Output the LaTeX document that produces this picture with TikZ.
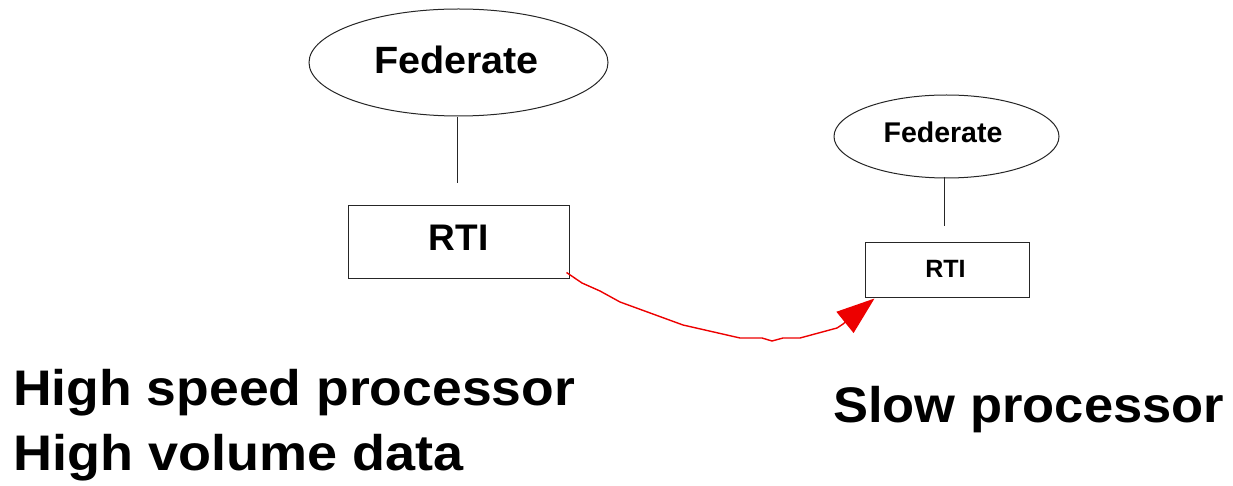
\documentclass[tikz,border=0pt]{standalone}
\usepackage{fontspec}
\setmainfont{Liberation Sans}
\usetikzlibrary{shapes.geometric,arrows.meta}
\begin{document}
\begin{tikzpicture}[x=1pt,y=-1pt,
  outline/.style={draw=black!85,line width=1pt},
  fedshape/.style={outline,ellipse,inner sep=0pt},
  rtibox/.style={outline,rectangle,inner sep=0pt},
  link/.style={draw=black!85,line width=1pt},
  txt/.style={font=\bfseries,inner sep=0pt},
  caption/.style={txt,font=\fontsize{50}{60}\selectfont\bfseries,anchor=base west},
  flow/.style={draw=red!93!black,line width=1.4pt,line join=round,
    -{Triangle[length=38pt,width=27pt]}}]
\useasboundingbox (0,0) rectangle (1233,486);

% fast side
\node[fedshape,minimum width=299pt,minimum height=107pt] (fed1) at (458.5,62.5) {};
\node[txt,font=\fontsize{38}{40}\selectfont\bfseries,anchor=base] (fed1t) at ([yshift=-11.5pt,xshift=-2pt]fed1.center) {\scalebox{1.04}[1]{Federate}};
\node[rtibox,minimum width=221pt,minimum height=72pt] (rti1) at (458.5,242) {};
\node[txt,font=\fontsize{37}{40}\selectfont\bfseries,anchor=base] (rti1t) at ([yshift=-9pt]rti1.center) {RTI};
\coordinate (top1) at (457,117);
\coordinate (stub1) at (457,183);
\draw[link] (top1) -- (stub1);

% slow side
\node[fedshape,minimum width=225pt,minimum height=83pt] (fed2) at (946.5,136.5) {};
\node[txt,font=\fontsize{28.5}{30}\selectfont\bfseries,anchor=base] (fed2t) at ([yshift=-6.5pt,xshift=-3.5pt]fed2.center) {Federate};
\node[rtibox,minimum width=164pt,minimum height=54pt] (rti2) at (947,270) {};
\node[txt,font=\fontsize{25}{27}\selectfont\bfseries,anchor=base] (rti2t) at ([yshift=-7pt,xshift=-1.5pt]rti2.center) {RTI};
\coordinate (top2) at (944,177);
\coordinate (stub2) at (944,226);
\draw[link] (top2) -- (stub2);

% data flow from the fast RTI to the slow RTI
\coordinate (src) at ([shift={(-3,-6)}]rti1.south east);
\coordinate (dst) at ([shift={(10,1)}]rti2.south west);
\draw[flow] (src) -- (582,283) -- (600,291) -- (620,302) -- (683,325)
  -- (740,338) -- (762,338) -- (772,341) -- (783,338) -- (800,338)
  -- (837,328) -- (843,324) -- (dst);

% captions
\node[caption] (cap1) at (13,405) {\scalebox{1.07}[1]{High speed processor}};
\node[caption] (cap2) at (13,470) {\scalebox{1.08}[1]{High volume data}};
\node[caption] (cap3) at (833,422) {\scalebox{1.05}[1]{Slow processor}};
\end{tikzpicture}
\end{document}
